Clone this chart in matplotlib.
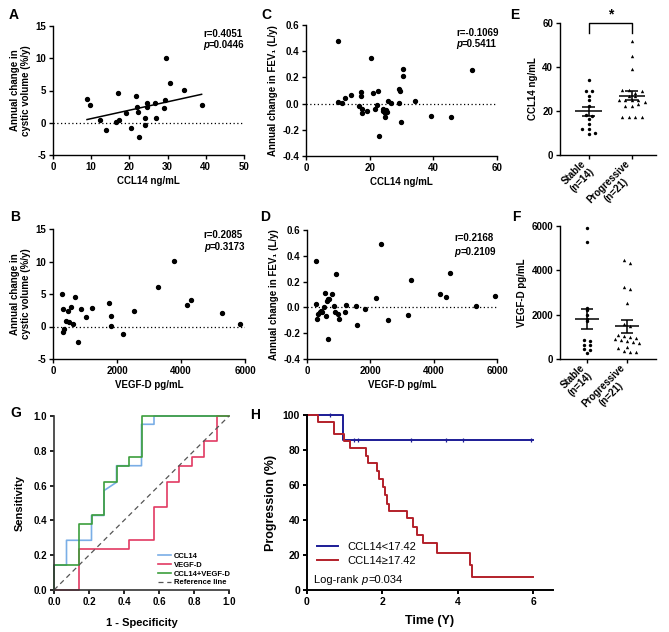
import numpy as np
import matplotlib
matplotlib.use("Agg")
import matplotlib.pyplot as plt

plt.rcParams['font.family'] = ['Liberation Sans', 'DejaVu Sans']
plt.rcParams['font.weight'] = 'bold'
plt.rcParams['axes.labelweight'] = 'bold'
plt.rcParams['axes.unicode_minus'] = False
plt.rcParams['font.size'] = 7

# ---- data ----
# A: CCL14 vs annual change in cystic volume
a_ccl14 = [8.9, 9.8, 12.2, 14.0, 17.1, 16.6, 17.4, 19.0, 20.4, 21.8, 21.9, 22.2, 22.4,
           24.2, 24.2, 24.6, 24.7, 26.7, 26.9, 29.0, 29.4, 29.7, 30.5, 34.2, 38.9]
a_cyst = [3.75, 2.7, 0.45, -1.2, 4.6, 0.15, 0.45, 1.55, -0.75, 4.15, 2.45, 1.7, -2.25,
          0.8, -0.35, 3.0, 2.4, 3.1, 0.7, 2.25, 3.5, 10.1, 6.15, 5.1, 2.8]

# B: VEGF-D vs annual change in cystic volume
b_vegfd = [291, 300, 333, 322, 416, 478, 500, 551, 624, 686, 770, 863, 1030, 1217, 1737,
           1810, 1810, 2174, 2527, 3276, 3796, 4201, 4326, 5293, 5844]
b_cyst = [4.97, -0.87, -0.41, 2.72, 0.87, 2.31, 0.67, 3.03, 0.46, 4.51, -2.31, 2.67, 1.44,
          2.87, 3.64, 1.64, 0.1, -1.23, 2.31, 6.05, 10.05, 3.38, 4.05, 2.15, 0.36]

# C: CCL14 vs annual change in FEV1
c_ccl14 = [10.2, 9.9, 11.3, 12.3, 14.2, 16.5, 17.3, 17.3, 17.6, 17.6, 19.1, 20.5, 21.0, 21.8,
           22.3, 22.6, 22.9, 24.1, 24.3, 24.8, 24.8, 25.1, 25.4, 25.9, 26.8, 29.1, 29.4, 29.2,
           29.9, 30.6, 30.6, 34.3, 39.3, 45.6, 52.2]
c_fev1 = [0.476, 0.013, 0.008, 0.046, 0.066, -0.015, 0.092, 0.059, -0.041, -0.071, -0.056,
          0.349, 0.079, -0.038, -0.013, 0.099, -0.249, -0.038, -0.059, -0.099, -0.069, -0.048,
          -0.066, 0.018, 0.003, 0.109, 0.099, 0.008, -0.142, 0.211, 0.265, 0.02, -0.097,
          -0.102, 0.254]

# D: VEGF-D vs annual change in FEV1
d_vegfd = [274, 284, 316, 347, 400, 442, 474, 548, 579, 600, 632, 663, 695, 674, 790, 863,
           874, 906, 979, 1011, 1190, 1242, 1548, 1579, 1821, 2169, 2337, 2548, 3180, 3275,
           4212, 4402, 4528, 5339, 5950]
d_fev1 = [0.358, 0.025, -0.088, -0.052, -0.039, -0.026, -0.039, 0.002, 0.115, -0.065, 0.048,
          0.064, 0.066, -0.246, 0.103, 0.012, -0.034, 0.26, -0.052, -0.093, -0.039, 0.02,
          0.01, -0.138, -0.009, 0.069, 0.489, -0.096, -0.06, 0.215, 0.103, 0.08, 0.268,
          0.012, 0.09]

stats_a = ("r=0.4051", "=0.0446")
stats_b = ("r=0.2085", "=0.3173")
stats_c = ("r=-0.1069", "=0.5411")
stats_d = ("r=0.2168", "=0.2109")

# E / F: group values
groups = ["Stable\n(n=14)", "Progressive\n(n=21)"]
e_stable = [34.2, 29.2, 29.0, 27.0, 25.0, 22.4, 18.2, 17.8, 16.3, 14.2, 12.0, 11.8, 10.2, 9.7]
e_prog = [51.7, 44.8, 39.0, 29.6, 29.6, 28.0, 27.0, 29.0, 25.0, 25.0, 25.0, 25.0, 27.0, 22.5,
          22.5, 24.0, 23.0, 17.2, 17.2, 17.2, 17.2]
f_stable = [5900, 5300, 2320, 2200, 2000, 1800, 1700, 850, 800, 650, 620, 450, 420, 280]
f_prog = [4470, 4350, 3240, 3150, 2520, 1600, 1500, 1080, 1050, 1000, 950, 900, 850, 800,
          750, 700, 550, 500, 350, 300, 300]

# G: ROC steps (counts of stable n=14 / progressive n=21)
n_neg, n_pos = 14, 21
roc_ccl14_fp = [0, 0, 1, 1, 3, 3, 4, 4, 5, 5, 7, 7, 8, 8, 14]
roc_ccl14_tp = [0, 3, 3, 6, 6, 9, 9, 12, 13, 15, 15, 20, 20, 21, 21]
roc_vegfd_fp = [0, 2, 2, 6, 6, 8, 8, 9, 9, 10, 10, 11, 11, 12, 12, 13, 13, 14]
roc_vegfd_tp = [0, 0, 5, 5, 6, 6, 10, 10, 13, 13, 15, 15, 16, 16, 18, 18, 21, 21]
roc_comb_fp = [0, 0, 2, 2, 3, 3, 4, 4, 5, 5, 6, 6, 7, 7, 14]
roc_comb_tp = [0, 3, 3, 8, 8, 9, 9, 13, 13, 15, 15, 16, 16, 21, 21]
ref_line = [0, 1]

# H: Kaplan-Meier
km_low_t = [0, 0.95, 6.0]
km_low_s = [100, 85.7, 85.7]
km_low_cens_t = [0.6, 1.25, 1.35, 2.75, 3.7, 4.15, 5.95]
km_low_cens_s = [100, 85.7, 85.7, 85.7, 85.7, 85.7, 85.7]
km_high_t = [0, 0.28, 0.71, 0.97, 1.15, 1.57, 1.62, 1.85, 1.90, 2.03, 2.07, 2.12, 2.18,
             2.65, 2.81, 2.91, 3.09, 3.44, 4.34, 4.39, 6.0]
km_high_s = [100, 95.8, 89, 85.2, 81, 76.4, 72.6, 67.9, 63.5, 58.6, 54.2, 49.4, 45.1,
             40.9, 36.1, 31.4, 26.6, 21.3, 14.3, 7.6, 7.6]

W, H = 669, 632
fig = plt.figure(figsize=(W / 100, H / 100), dpi=100)


def box(l, t, r, b):
    return [l / W, 1 - b / H, (r - l) / W, (b - t) / H]


def style(ax, lw=1.0):
    for s in ['top', 'right']:
        ax.spines[s].set_visible(False)
    for s in ['left', 'bottom']:
        ax.spines[s].set_linewidth(lw)
    ax.tick_params(width=lw, length=3, labelsize=7, pad=2)


def stats_text(ax, x, y, y2, r_txt, p_txt):
    ax.text(x, y, r_txt, transform=ax.transAxes, va='top', ha='left', fontsize=7)
    tp = ax.text(x, y2, 'p', transform=ax.transAxes, va='top', ha='left', fontsize=7,
                 style='italic')
    ax.annotate(p_txt, xy=(1, 0), xycoords=tp, va='bottom', ha='left', fontsize=7)


def scatter_panel(ax, x, y, xlim, xticks, ylim, yticks, xlabel, ylabel, st, tpos, fmt=None):
    style(ax)
    ax.scatter(x, y, s=8, color='black', zorder=3, clip_on=False)
    ax.plot(xlim, [0, 0], ls=(0, (1, 2)), color='black', lw=0.9)
    ax.set_xlim(xlim)
    ax.set_ylim(ylim)
    ax.set_xticks(xticks)
    ax.set_yticks(yticks)
    if fmt:
        ax.set_yticklabels([fmt % v for v in yticks])
    ax.set_xlabel(xlabel, fontsize=7, labelpad=3)
    ax.set_ylabel(ylabel, fontsize=7, labelpad=3)
    stats_text(ax, tpos[0], tpos[1], tpos[2], st[0], st[1])


# A
axA = fig.add_axes(box(53, 26, 244, 155))
scatter_panel(axA, a_ccl14, a_cyst, [0, 50], range(0, 51, 10), [-5, 15], range(-5, 16, 5),
              'CCL14 ng/mL', 'Annual change in\ncystic volume (%/y)', stats_a,
              (0.785, 0.98, 0.89))
coef = np.polyfit(a_ccl14, a_cyst, 1)
xf = np.array([min(a_ccl14), max(a_ccl14)])
axA.plot(xf, np.polyval(coef, xf), color='black', lw=1.1)

# C
axC = fig.add_axes(box(306, 25, 497, 156))
scatter_panel(axC, c_ccl14, c_fev1, [0, 60], [0, 20, 40, 60], [-0.4, 0.6],
              [-0.4, -0.2, 0.0, 0.2, 0.4, 0.6], 'CCL14 ng/mL',
              'Annual change in FEV\u2081 (L/y)', stats_c, (0.785, 0.98, 0.89), fmt='%.1f')

# B
axB = fig.add_axes(box(53, 229, 245, 359))
scatter_panel(axB, b_vegfd, b_cyst, [0, 6000], [0, 2000, 4000, 6000], [-5, 15],
              range(-5, 16, 5), 'VEGF-D pg/mL', 'Annual change in\ncystic volume (%/y)',
              stats_b, (0.785, 0.99, 0.90))

# D
axD = fig.add_axes(box(307, 230, 497, 359))
scatter_panel(axD, d_vegfd, d_fev1, [0, 6000], [0, 2000, 4000, 6000], [-0.4, 0.6],
              [-0.4, -0.2, 0.0, 0.2, 0.4, 0.6], 'VEGF-D pg/mL',
              'Annual change in FEV\u2081 (L/y)', stats_d, (0.775, 0.98, 0.87), fmt='%.1f')


def swarm_offsets(vals, binw, step):
    vals = np.asarray(vals, dtype=float)
    bins = np.round(vals / binw)
    off = np.zeros(len(vals))
    for b in np.unique(bins):
        idx = np.where(bins == b)[0]
        k = len(idx)
        off[idx] = (np.arange(k) - (k - 1) / 2) * step
    return off


def dot_panel(ax, stable, prog, xlim, ylim, yticks, ylabel, binw):
    style(ax)
    for i, (vals, mk) in enumerate([(stable, 'o'), (prog, '^')]):
        xs = i + swarm_offsets(vals, binw, 0.15)
        ax.scatter(xs, vals, s=6, marker=mk, color='black', zorder=3, lw=0, clip_on=False)
        m = np.mean(vals)
        se = np.std(vals, ddof=1) / np.sqrt(len(vals))
        ax.hlines(m, i - 0.31, i + 0.31, color='black', lw=1.1, zorder=4)
        ax.hlines([m - se, m + se], i - 0.15, i + 0.15, color='black', lw=1.1, zorder=4)
        ax.vlines(i, m - se, m + se, color='black', lw=1.1, zorder=4)
    ax.set_xlim(xlim)
    ax.set_ylim(ylim)
    ax.set_yticks(yticks)
    ax.set_xticks([0, 1])
    ax.set_xticklabels(groups, rotation=45, ha='right', rotation_mode='anchor',
                       va='center', multialignment='center', fontsize=7)
    ax.tick_params(axis='x', pad=5)
    ax.set_ylabel(ylabel, fontsize=7, labelpad=3)


# E
axE = fig.add_axes(box(560, 23, 656, 155))
dot_panel(axE, e_stable, e_prog, [-0.67, 1.56], [0, 60], [0, 20, 40, 60], 'CCL14 ng/mL', 2.2)
axE.plot([0, 0, 1, 1], [55.5, 60, 60, 55.5], color='black', lw=1, clip_on=False)
axE.text(0.5, 60.5, '*', ha='center', va='bottom', fontsize=10)

# F
axF = fig.add_axes(box(560, 226, 656, 359))
dot_panel(axF, f_stable, f_prog, [-0.675, 1.725], [0, 6000], [0, 2000, 4000, 6000],
          'VEGF-D pg/mL', 200)

# G
axG = fig.add_axes(box(54, 416, 229, 590))
style(axG, lw=1.2)
for s in ['left', 'bottom']:
    axG.spines[s].set_color('#333333')
axG.plot(np.array(roc_ccl14_fp) / n_neg, np.array(roc_ccl14_tp) / n_pos, color='#7aaee6',
         lw=1.2, label='CCL14', clip_on=False)
axG.plot(np.array(roc_vegfd_fp) / n_neg, np.array(roc_vegfd_tp) / n_pos, color='#e23a62',
         lw=1.2, label='VEGF-D', clip_on=False)
axG.plot(np.array(roc_comb_fp) / n_neg, np.array(roc_comb_tp) / n_pos, color='#3c9e3c',
         lw=1.2, label='CCL14+VEGF-D', clip_on=False)
axG.plot(ref_line, ref_line, color='#555555', lw=0.9, ls=(0, (4, 3)), label='Reference line')
axG.set_xlim(0, 1)
axG.set_ylim(0, 1)
axG.set_xticks(np.arange(0, 1.01, 0.2))
axG.set_yticks(np.arange(0, 1.01, 0.2))
axG.set_xticklabels(['%.1f' % v for v in np.arange(0, 1.01, 0.2)])
axG.set_yticklabels(['%.1f' % v for v in np.arange(0, 1.01, 0.2)])
axG.set_xlabel('1 - Specificity', fontsize=8, labelpad=8)
axG.set_ylabel('Sensitivity', fontsize=8, labelpad=6)
axG.legend(loc='lower right', bbox_to_anchor=(1.04, -0.01), frameon=False, fontsize=5.5,
           handlelength=1.8, handletextpad=0.3, labelspacing=0.2, borderpad=0.2)

# H
axH = fig.add_axes(box(307, 415, 553, 590))
style(axH, lw=1.4)
axH.step(km_low_t, km_low_s, where='post', color='#1c1c96', lw=1.4, clip_on=False,
         label='CCL14<17.42')
axH.plot(km_low_cens_t, km_low_cens_s, ls='none', marker='|', ms=3.5, mew=0.9,
         color='#1c1c96', clip_on=False)
axH.step(km_high_t, km_high_s, where='post', color='#b3202a', lw=1.4, clip_on=False,
         label='CCL14\u226517.42')
axH.set_xlim(0, 6.53)
axH.set_ylim(0, 100)
axH.set_xticks([0, 2, 4, 6])
axH.set_yticks(range(0, 101, 20))
axH.tick_params(labelsize=7.5)
axH.set_xlabel('Time (Y)', fontsize=9, labelpad=6)
axH.set_ylabel('Progression (%)', fontsize=9, labelpad=4)
leg = axH.legend(loc='upper left', bbox_to_anchor=(0.0, 0.33), frameon=False, fontsize=8,
                 handlelength=1.9, handletextpad=0.8, labelspacing=0.35,
                 prop={'weight': 'normal', 'size': 8})
tlr = axH.text(0.03, 0.03, 'Log-rank ', transform=axH.transAxes, fontsize=8,
               fontweight='normal', va='bottom', ha='left')
tlp = axH.annotate('p', xy=(1, 0), xycoords=tlr, va='bottom', ha='left', fontsize=8,
                   fontweight='normal', style='italic')
axH.annotate('=0.034', xy=(1, 0), xycoords=tlp, va='bottom', ha='left', fontsize=8,
             fontweight='normal')

# panel letters
for lab, x, y in [('A', 9, 15), ('C', 261, 15), ('E', 510, 15), ('B', 10, 217),
                  ('D', 260, 217), ('F', 512, 217), ('G', 10, 413), ('H', 250, 415)]:
    fig.text(x / W, 1 - y / H, lab, fontsize=10, fontweight='bold', ha='left', va='center')

fig.savefig('out.png', dpi=100)
